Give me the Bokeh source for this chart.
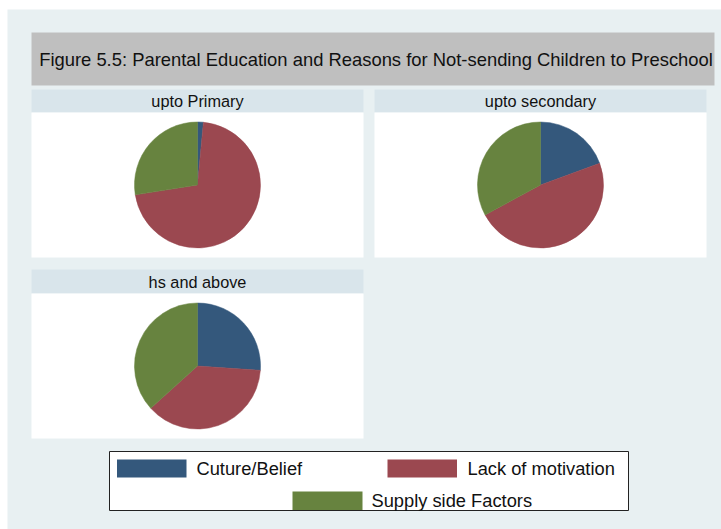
import numpy as np
from bokeh.plotting import figure
from bokeh.models import Range1d
from bokeh.core.properties import value
from bokeh.embed import file_html
from bokeh.resources import INLINE

# ---- data ----
levels = ["upto Primary", "upto secondary", "hs and above"]
reasons = ["Cuture/Belief", "Lack of motivation", "Supply side Factors"]
culture = [1.5, 19.4, 26.1]
lack = [71.0, 47.7, 37.2]
supply = [27.5, 32.9, 36.7]
colors = ["#34587c", "#9b4850", "#67833f"]
title = "Figure 5.5: Parental Education and Reasons for Not-sending Children to Preschool"

W, H = 721, 529
FONT = value("Liberation Sans")

p = figure(width=W, height=H, output_backend="svg", toolbar_location=None,
           x_range=Range1d(0, W), y_range=Range1d(0, H), min_border=0)
p.axis.visible = False
p.grid.visible = False
p.outline_line_color = None
p.background_fill_color = "white"
p.border_fill_color = "white"

def Y(y):
    return H - y

# outer background
p.quad(left=[7], right=[W], top=[Y(9)], bottom=[Y(H)], fill_color="#e8f0f2", line_color=None)
# title box
p.quad(left=[31], right=[714], top=[Y(32)], bottom=[Y(85)], fill_color="#bfbfbf", line_color=None)
p.text(x=[375.5], y=[Y(58.5)], text=[title], text_font=FONT, text_font_size="18.4px",
       text_align="center", text_baseline="middle", text_color="#111111")

# panels: (left, right, header_top, header_bottom, body_bottom)
panels = [(31, 363, 89, 112, 257), (374, 706, 89, 112, 257), (31, 363, 269, 293, 438)]
for (l, r, ht, hb, bb), lab, vals in zip(panels, levels, zip(culture, lack, supply)):
    p.quad(left=[l], right=[r], top=[Y(ht)], bottom=[Y(hb)], fill_color="#d9e5eb", line_color=None)
    p.quad(left=[l], right=[r], top=[Y(hb)], bottom=[Y(bb)], fill_color="white", line_color=None)
    p.text(x=[(l + r) / 2], y=[Y((ht + hb) / 2)], text=[lab], text_font=FONT, text_font_size="16.3px",
           text_align="center", text_baseline="middle", text_color="#111111")
    cx, cy = (l + r) / 2, (hb + bb) / 2
    v = np.array(vals, dtype=float)
    frac = v / v.sum()
    cum = np.concatenate([[0], np.cumsum(frac)])
    starts = np.pi / 2 - 2 * np.pi * cum[:-1]
    ends = np.pi / 2 - 2 * np.pi * cum[1:]
    p.wedge(x=[cx] * 3, y=[Y(cy)] * 3, radius=63, radius_units="screen",
            start_angle=list(starts), end_angle=list(ends), direction="clock",
            fill_color=colors, line_color=colors, line_width=0.5)

# legend
p.quad(left=[109], right=[628], top=[Y(451)], bottom=[Y(510)], fill_color="white",
       line_color="#222222", line_width=1)
sw = [(116.5, 186, 459, 477), (387, 456.5, 459, 477), (292, 362, 491, 509.5)]
tx = [(196, 468), (467, 468), (371, 500)]
for (l, r, t, b), (x, y), name, c in zip(sw, tx, reasons, colors):
    p.quad(left=[l], right=[r], top=[Y(t)], bottom=[Y(b)], fill_color=c, line_color=None)
    p.text(x=[x], y=[Y(y)], text=[name], text_font=FONT, text_font_size="18.3px",
           text_align="left", text_baseline="middle", text_color="#111111")

open("out.html", "w").write(file_html(p, INLINE))
